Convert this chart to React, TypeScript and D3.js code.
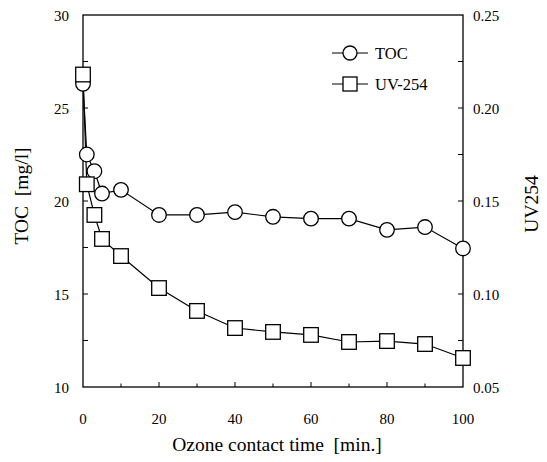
import React, { useEffect, useRef } from 'react';
import * as d3 from 'd3';

// ozone contact time [min.]
const times = [0, 1, 3, 5, 10, 20, 30, 40, 50, 60, 70, 80, 90, 100];
const tocValues = [26.3, 22.5, 21.6, 20.4, 20.6, 19.25, 19.25, 19.4, 19.15, 19.05, 19.05, 18.45, 18.6, 17.45];
const uvValues = [0.218, 0.159, 0.1425, 0.1296, 0.1204, 0.1032, 0.0909, 0.0817, 0.0796, 0.078, 0.0742, 0.0747, 0.0731, 0.0656];

const xTicks = [0, 20, 40, 60, 80, 100];
const leftTicks = [10, 15, 20, 25, 30];
const rightTicks = [0.05, 0.1, 0.15, 0.2, 0.25];

const FONT = "'Liberation Serif', 'DejaVu Serif', serif";

function OzoneChart() {
  const svgRef = useRef<SVGSVGElement>(null);

  useEffect(() => {
    const svg = d3.select(svgRef.current);
    svg.selectAll('*').remove();

    const left = 83, right = 463, top = 15, bottom = 387;

    const x = d3.scaleLinear().domain([0, 100]).range([left, right]);
    const yL = d3.scaleLinear().domain([10, 30]).range([bottom, top]);
    const yR = d3.scaleLinear().domain([0.05, 0.25]).range([bottom, top]);

    const g = svg.append('g').attr('font-family', FONT);

    // frame
    g.append('rect')
      .attr('x', left).attr('y', top)
      .attr('width', right - left).attr('height', bottom - top)
      .attr('fill', 'none').attr('stroke', '#000').attr('stroke-width', 1.3);

    // inward ticks
    d3.range(10, 100, 10).forEach((t) => {
      g.append('line')
        .attr('x1', x(t)).attr('x2', x(t))
        .attr('y1', bottom).attr('y2', bottom - (t % 20 === 0 ? 5 : 3.5))
        .attr('stroke', '#000').attr('stroke-width', 1);
    });
    d3.range(12.5, 30, 2.5).forEach((v) => {
      g.append('line')
        .attr('x1', left).attr('x2', left + 5)
        .attr('y1', yL(v)).attr('y2', yL(v))
        .attr('stroke', '#000').attr('stroke-width', 1);
    });
    d3.range(0.075, 0.25, 0.025).forEach((v) => {
      g.append('line')
        .attr('x1', right).attr('x2', right - 5)
        .attr('y1', yR(v)).attr('y2', yR(v))
        .attr('stroke', '#000').attr('stroke-width', 1);
    });

    // tick labels
    g.selectAll('.xl').data(xTicks).enter().append('text')
      .attr('x', (d) => x(d)).attr('y', 424)
      .attr('text-anchor', 'middle')
      .attr('font-size', 15)
      .text((d) => d);
    g.selectAll('.ll').data(leftTicks).enter().append('text')
      .attr('x', 69).attr('y', (d) => yL(d) + 1)
      .attr('dy', '0.35em')
      .attr('text-anchor', 'end')
      .attr('font-size', 15)
      .text((d) => d);
    g.selectAll('.rl').data(rightTicks).enter().append('text')
      .attr('x', 473).attr('y', (d) => yR(d) + 1)
      .attr('dy', '0.35em')
      .attr('font-size', 15)
      .text((d) => d3.format('.2f')(d));

    // axis titles
    g.append('text')
      .attr('x', 277).attr('y', 451)
      .attr('text-anchor', 'middle')
      .attr('font-size', 19.5)
      .attr('xml:space', 'preserve')
      .text('Ozone contact time  [min.]');
    g.append('text')
      .attr('transform', 'translate(28,196) rotate(-90)')
      .attr('text-anchor', 'middle')
      .attr('font-size', 19.5)
      .attr('xml:space', 'preserve')
      .text('TOC  [mg/l]');
    g.append('text')
      .attr('transform', 'translate(538,204) rotate(-90)')
      .attr('text-anchor', 'middle')
      .attr('font-size', 19.5)
      .text('UV254');

    const tocPts: [number, number][] = times.map((t, i) => [x(t), yL(tocValues[i])]);
    const uvPts: [number, number][] = times.map((t, i) => [x(t), yR(uvValues[i])]);
    const line = d3.line();

    g.append('path').attr('d', line(tocPts))
      .attr('fill', 'none').attr('stroke', '#000').attr('stroke-width', 1.2);
    g.append('path').attr('d', line(uvPts))
      .attr('fill', 'none').attr('stroke', '#000').attr('stroke-width', 1.2);

    g.selectAll('.toc').data(tocPts).enter().append('circle')
      .attr('cx', (d) => d[0]).attr('cy', (d) => d[1]).attr('r', 7.3)
      .attr('fill', '#fff').attr('stroke', '#000').attr('stroke-width', 1.3);
    g.selectAll('.uv').data(uvPts).enter().append('rect')
      .attr('x', (d) => d[0] - 7.3).attr('y', (d) => d[1] - 7.3)
      .attr('width', 14.6).attr('height', 14.6)
      .attr('fill', '#fff').attr('stroke', '#000').attr('stroke-width', 1.3);

    // legend
    const legend = g.append('g');
    const rows = [
      { label: 'TOC', y: 53, shape: 'circle' },
      { label: 'UV-254', y: 84, shape: 'square' },
    ];
    rows.forEach((r) => {
      legend.append('line')
        .attr('x1', 332).attr('x2', 368).attr('y1', r.y).attr('y2', r.y)
        .attr('stroke', '#000').attr('stroke-width', 1.2);
      if (r.shape === 'circle') {
        legend.append('circle').attr('cx', 350).attr('cy', r.y).attr('r', 7)
          .attr('fill', '#fff').attr('stroke', '#000').attr('stroke-width', 1.3);
      } else {
        legend.append('rect').attr('x', 343).attr('y', r.y - 7).attr('width', 14).attr('height', 14)
          .attr('fill', '#fff').attr('stroke', '#000').attr('stroke-width', 1.3);
      }
      legend.append('text')
        .attr('x', 375).attr('y', r.y).attr('dy', '0.35em')
        .attr('font-size', 16.5)
        .text(r.label);
    });
  }, []);

  return <svg ref={svgRef} width={547} height={462} style={{ display: 'block' }} />;
}

export default function App() {
  return (
    <div style={{ margin: -8 }}>
      <OzoneChart />
    </div>
  );
}
